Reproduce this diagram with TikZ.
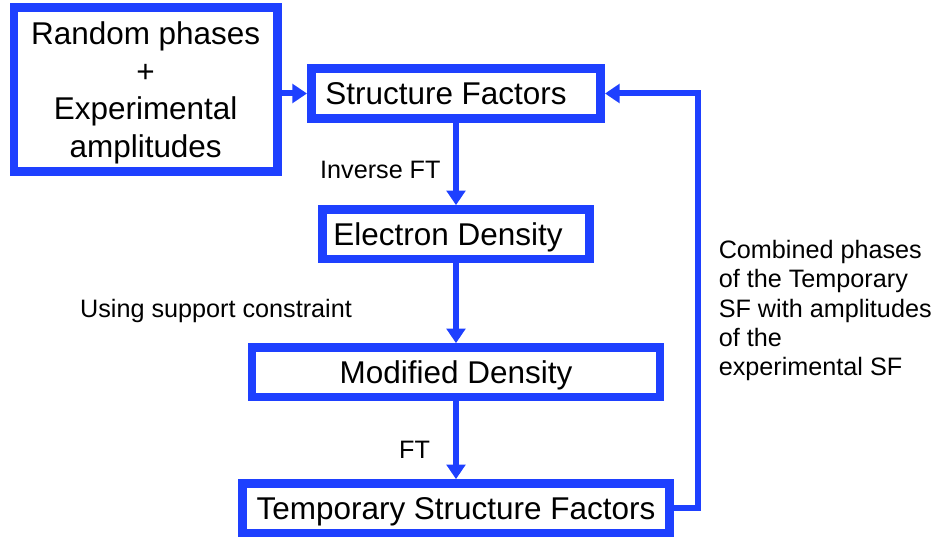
\documentclass[tikz,border=0pt]{standalone}
\usepackage{fontspec}
\setmainfont{Liberation Sans}
\usetikzlibrary{positioning,arrows.meta}

\definecolor{flowblue}{RGB}{30,64,255}

\begin{document}
\begin{tikzpicture}[
    x=0.75pt, y=0.75pt,
    node distance=62pt and 19pt,
    box/.style={rectangle, draw=flowblue, line width=6.5pt, fill=white, minimum height=37pt, text depth=0pt, align=center, font=\fontsize{23.6}{28.2}\selectfont},
    note/.style={font=\fontsize{18.9}{22}\selectfont, align=left},
    line/.style={draw=flowblue, line width=4.5pt, -{Triangle[length=11pt,width=14pt]}}
]

    \useasboundingbox (0,0) rectangle (935,-542);

    % --- Main column ---
    \node [box, minimum width=217pt] (sf) at (456,-93.5) {Structure Factors\hspace*{15pt}};
    \node [box, minimum width=200pt, below=of sf] (ed) {Electron Density\hspace*{12pt}};
    \node [box, minimum width=306pt, below=60pt of ed] (md) {Modified Density};
    \node [box, minimum width=320.5pt, below=58.5pt of md] (tsf) {Temporary Structure Factors};

    % --- Starting guess ---
    \node [box, minimum width=197.5pt, minimum height=123pt, left=of sf, yshift=3pt] (start) {Random phases\\+\\Experimental\\amplitudes};

    % Paths
    \path [line] (start.east |- sf.west) -- (sf.west);
    \path [line] (sf) -- node [note, left, pos=0.58, xshift=-6pt] {Inverse FT} (ed);
    \path [line] (ed) -- node [note, left, pos=0.6, xshift=-72.5pt] {Using support constraint} (md);
    \path [line] (md) -- node [note, left, pos=0.63, xshift=-14pt] {FT} (tsf);
    \path [line] (tsf.east) -- ++(18pt,0) |- node [note, right, pos=0.238, xshift=10pt] {Combined phases\\of the Temporary\\SF with amplitudes\\of the\\experimental SF} (sf.east);

\end{tikzpicture}
\end{document}
